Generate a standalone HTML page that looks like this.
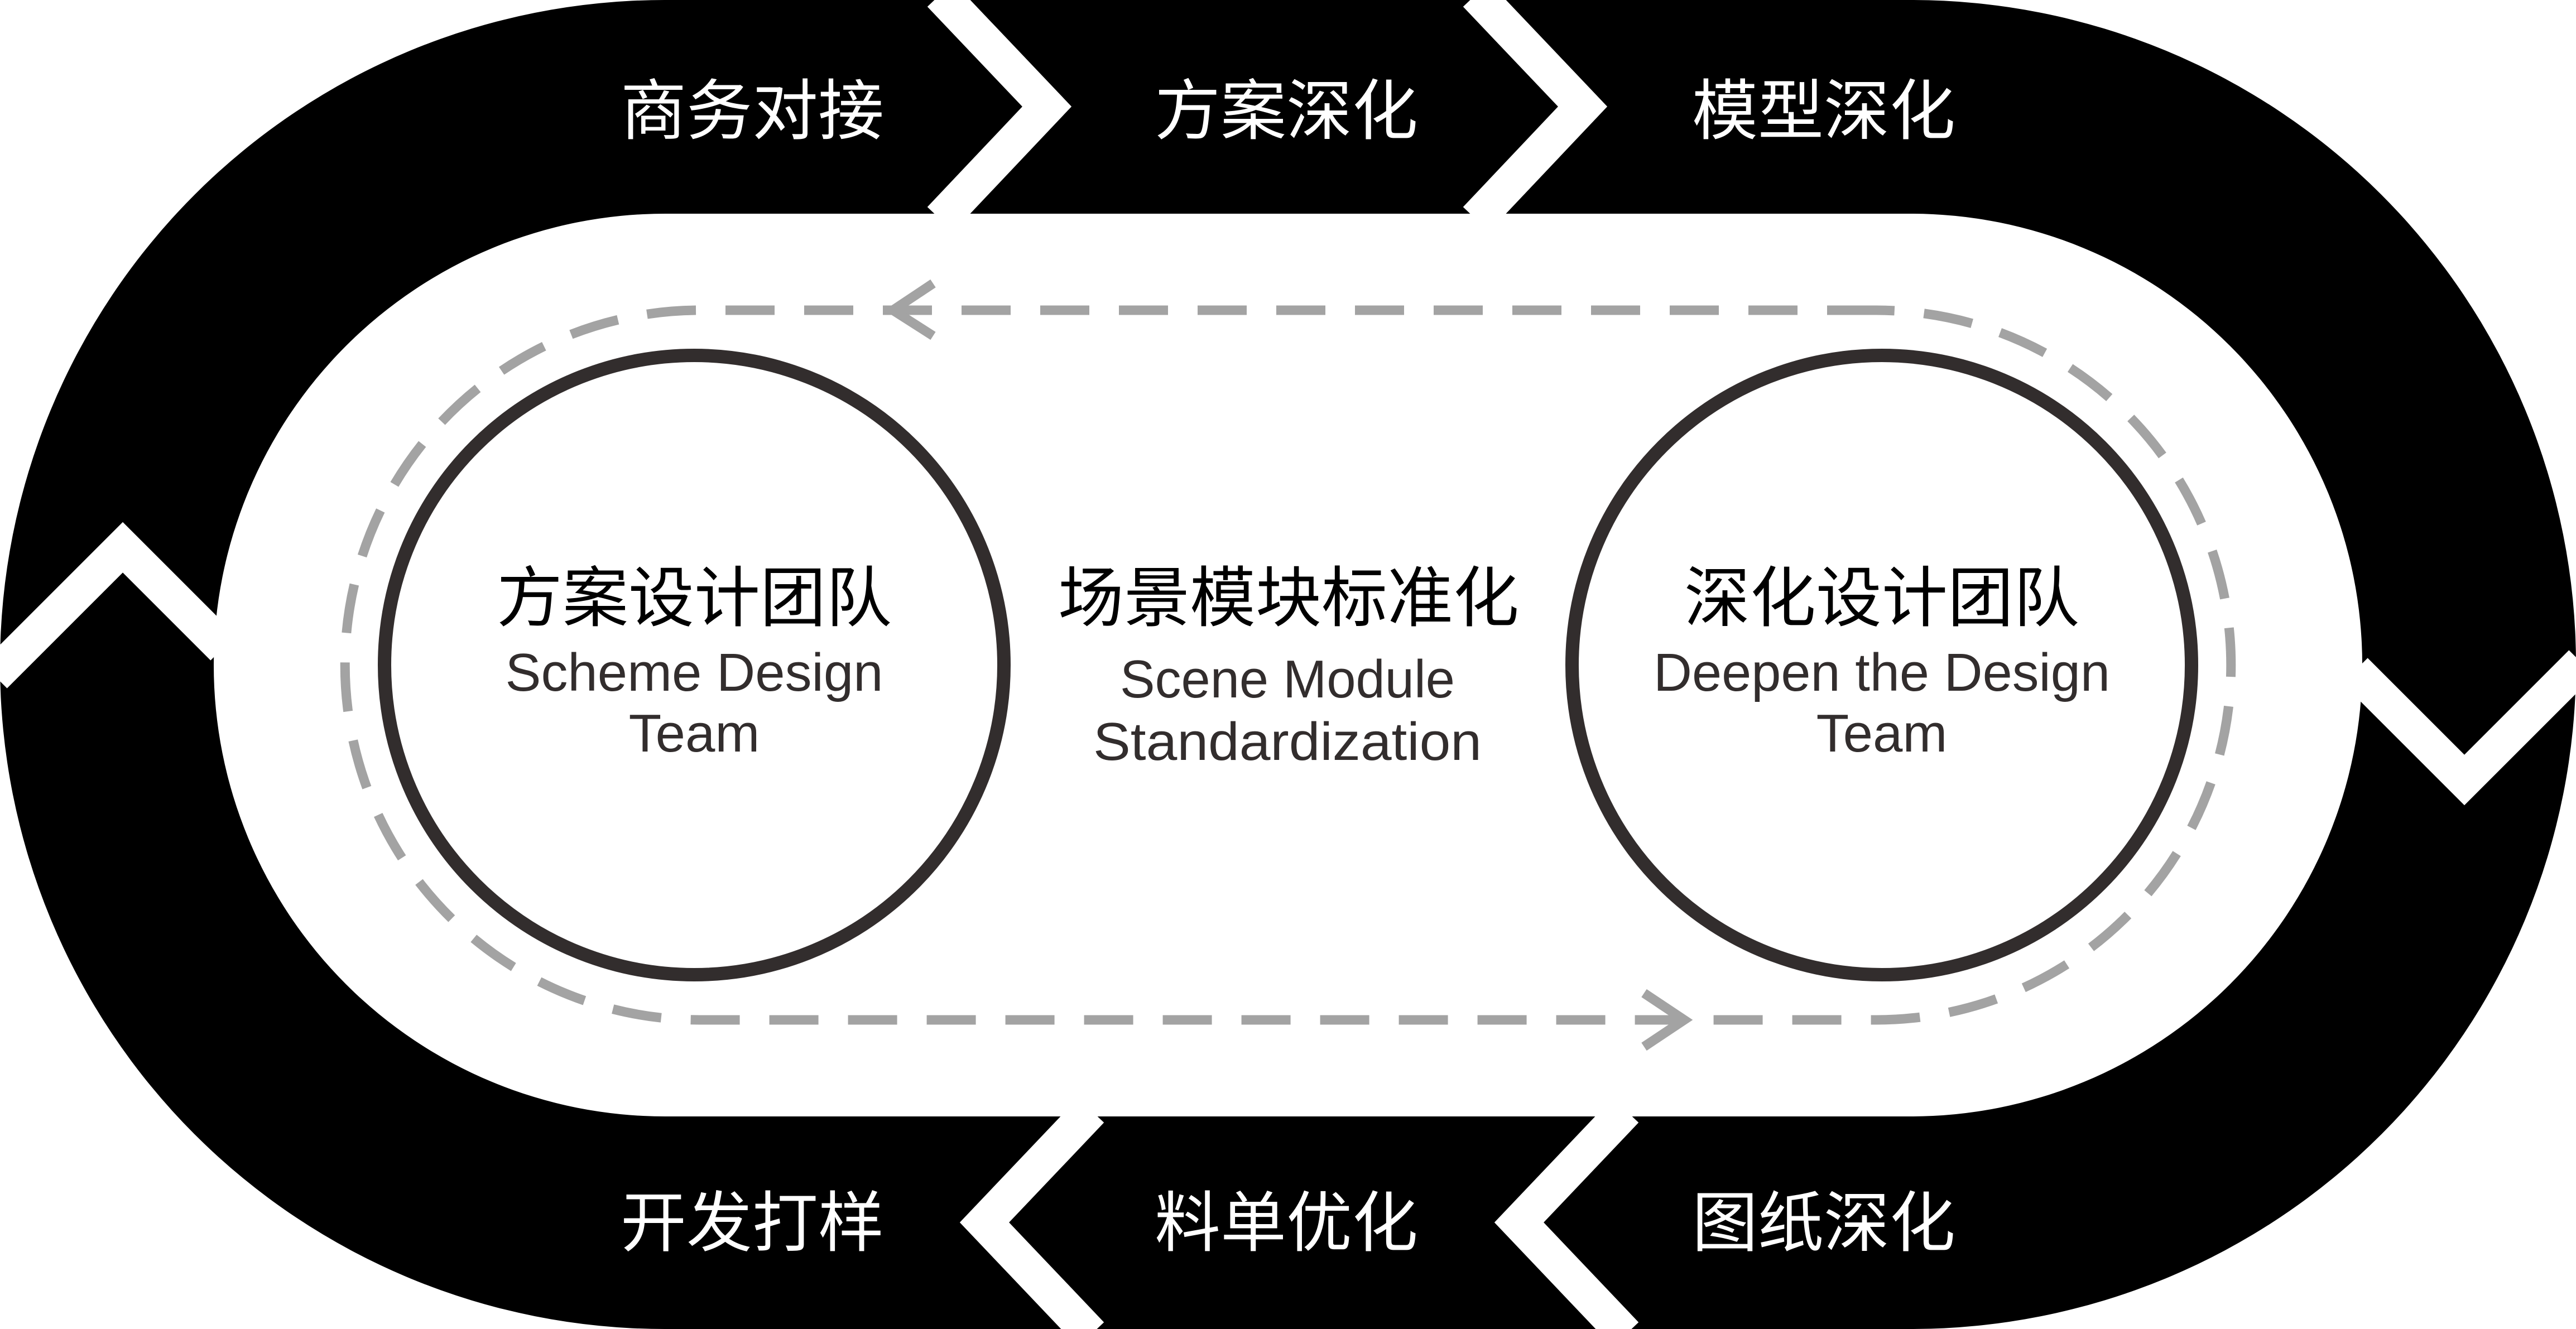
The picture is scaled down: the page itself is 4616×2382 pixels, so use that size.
<!DOCTYPE html>
<html><head><meta charset="utf-8"><style>html,body{margin:0;padding:0;background:#fff}svg{display:block}</style></head>
<body>
<svg width="4616" height="2382" viewBox="0 0 4616 2382" xmlns="http://www.w3.org/2000/svg">
<path fill="#000" fill-rule="evenodd" d="M1191,0 H3425 A1191,1191 0 0 1 3425,2382 H1191 A1191,1191 0 0 1 1191,0 Z M1192,383 H3424 A809,809 0 0 1 3424,2001 H1192 A809,809 0 0 1 1192,383 Z"/>
<g fill="none" stroke="#fff" stroke-width="64" stroke-linejoin="miter" stroke-miterlimit="10">
<polyline points="1685,-10 1876,191 1685,393"/>
<polyline points="2645,-10 2836,191 2645,393"/>
<polyline points="1955,1990 1764,2191 1955,2392"/>
<polyline points="2913,1990 2722,2191 2913,2392"/>
<polyline points="-10,1211 220,981 400,1161"/>
<polyline points="4220,1202 4416,1398 4626,1188"/>
</g>
<path fill="none" stroke="#a3a3a3" stroke-width="17" stroke-dasharray="88 53" d="M3362,556 H1254 A636,636 0 0 0 1254,1828 H3362 A636,636 0 0 0 3362,556 Z"/>
<polyline fill="none" stroke="#a3a3a3" stroke-width="17" points="1672,508 1600,556 1672,602"/>
<polyline fill="none" stroke="#a3a3a3" stroke-width="17" points="2946,1780 3018,1828 2946,1876"/>
<circle cx="1244" cy="1192" r="555" fill="#fff" stroke="#322d2d" stroke-width="24"/>
<circle cx="3372" cy="1192" r="555" fill="#fff" stroke="#322d2d" stroke-width="24"/>
<g font-family="'Liberation Sans','Noto Sans CJK SC',sans-serif" font-size="118" fill="#fff" text-anchor="middle" dominant-baseline="central">
<text x="1348" y="200">商务对接</text>
<text x="2305" y="200">方案深化</text>
<text x="3268" y="200">模型深化</text>
<text x="1348" y="2193">开发打样</text>
<text x="2305" y="2193">料单优化</text>
<text x="3268" y="2193">图纸深化</text>
</g>
<g font-family="'Liberation Sans','Noto Sans CJK SC',sans-serif" font-size="118" fill="#000" text-anchor="middle" dominant-baseline="central">
<text x="1244" y="1073">方案设计团队</text>
<text x="2309" y="1073">场景模块标准化</text>
<text x="3372" y="1073">深化设计团队</text>
</g>
<g font-family="'Liberation Sans',sans-serif" font-size="96" fill="#322d2d" text-anchor="middle">
<text x="1244" y="1238" textLength="677" lengthAdjust="spacingAndGlyphs">Scheme Design</text>
<text x="1244" y="1347">Team</text>
<text x="2307" y="1250" textLength="600" lengthAdjust="spacingAndGlyphs">Scene Module</text>
<text x="2307" y="1362" textLength="696" lengthAdjust="spacingAndGlyphs">Standardization</text>
<text x="3372" y="1238" textLength="818" lengthAdjust="spacingAndGlyphs">Deepen the Design</text>
<text x="3372" y="1347">Team</text>
</g>
</svg>
</body></html>
